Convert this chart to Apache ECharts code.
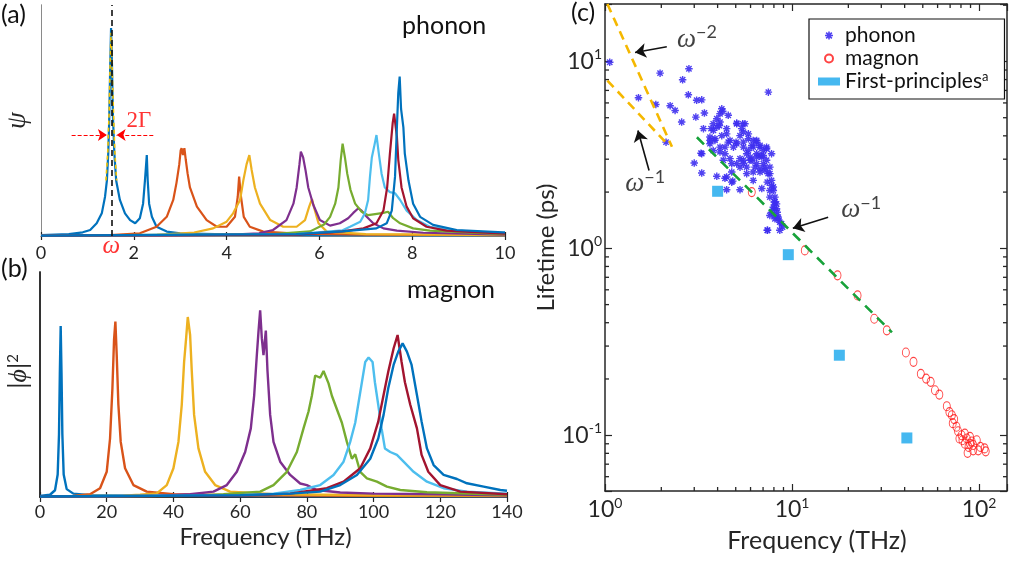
<!DOCTYPE html>
<html>
<head>
<meta charset="utf-8">
<script src="https://cdn.jsdelivr.net/npm/echarts@6/dist/echarts.min.js"></script>
<style>
  html, body { margin: 0; padding: 0; background: #fff; }
  #main { width: 1010px; height: 561px; }
</style>
</head>
<body>
<div id="main"></div>
<script>
// ---------- shared look ----------
const FONT = 'Lato, "DejaVu Sans", sans-serif';
const SERIF = '"Liberation Serif", "DejaVu Serif", serif';
const INK = '#262626';
const C_BLUE = '#0072BD', C_ORANGE = '#D95319', C_YELLOW = '#EDB120', C_PURPLE = '#7E2F8E',
      C_GREEN = '#77AC30', C_CYAN = '#4DBEEE', C_RED = '#A2142F';

// ---------- (a) phonon spectral functions: [frequency THz, psi (arb.)] ----------
const phA1 = [[0,0.004],[0.6,0.008],[0.9,0.016],[1.06,0.026],[1.2,0.055],[1.31,0.098],[1.38,0.17],[1.42,0.24],[1.45,0.36],[1.47,0.5],[1.49,0.72],[1.51,0.9],[1.53,0.74],[1.55,0.52],[1.58,0.36],[1.62,0.24],[1.7,0.156],[1.81,0.098],[1.92,0.069],[2.03,0.055],[2.13,0.077],[2.2,0.14],[2.24,0.24],[2.28,0.35],[2.3,0.24],[2.33,0.14],[2.39,0.083],[2.49,0.04],[2.71,0.019],[3.0,0.012],[4.0,0.007],[6,0.004],[10,0.003]];
const phA2 = [[0,0.002],[1.5,0.004],[2.13,0.012],[2.49,0.04],[2.71,0.083],[2.85,0.156],[2.92,0.23],[2.98,0.31],[3.01,0.37],[3.03,0.38],[3.06,0.35],[3.09,0.38],[3.12,0.33],[3.16,0.27],[3.21,0.21],[3.36,0.127],[3.57,0.069],[3.79,0.04],[4.0,0.04],[4.18,0.083],[4.24,0.17],[4.27,0.257],[4.31,0.17],[4.37,0.083],[4.5,0.04],[4.79,0.019],[5.5,0.01],[7,0.006],[10,0.004]];
const phA3 = [[0,0.002],[2.5,0.005],[3.3,0.015],[3.71,0.033],[4.0,0.062],[4.14,0.098],[4.29,0.156],[4.36,0.24],[4.43,0.31],[4.49,0.35],[4.54,0.286],[4.61,0.21],[4.72,0.14],[4.94,0.069],[5.22,0.04],[5.51,0.04],[5.69,0.069],[5.78,0.127],[5.84,0.16],[5.88,0.127],[5.98,0.055],[6.16,0.019],[7,0.008],[10,0.004]];
const phA4 = [[0,0.002],[4.0,0.005],[4.7,0.012],[5.0,0.026],[5.29,0.069],[5.44,0.14],[5.51,0.21],[5.57,0.31],[5.6,0.365],[5.65,0.34],[5.7,0.286],[5.76,0.21],[5.87,0.134],[6.01,0.069],[6.23,0.045],[6.44,0.055],[6.62,0.077],[6.73,0.1],[6.84,0.12],[6.91,0.11],[7.02,0.083],[7.16,0.055],[7.38,0.033],[7.67,0.023],[8.24,0.014],[10,0.006]];
const phA5 = [[0,0.002],[5.0,0.008],[5.8,0.02],[6.1,0.05],[6.23,0.083],[6.34,0.14],[6.41,0.21],[6.46,0.33],[6.5,0.40],[6.55,0.34],[6.6,0.27],[6.67,0.2],[6.77,0.14],[6.91,0.105],[7.05,0.09],[7.2,0.095],[7.38,0.1],[7.48,0.105],[7.59,0.077],[7.74,0.055],[8.02,0.033],[8.38,0.023],[10,0.008]];
const phA6 = [[0,0.002],[5.5,0.008],[6.5,0.025],[6.66,0.04],[6.88,0.062],[6.98,0.098],[7.05,0.156],[7.09,0.257],[7.13,0.34],[7.18,0.387],[7.23,0.437],[7.28,0.358],[7.34,0.27],[7.41,0.21],[7.52,0.19],[7.63,0.185],[7.74,0.156],[7.88,0.11],[8.1,0.069],[8.38,0.04],[8.96,0.023],[10,0.012]];
const phA7 = [[0,0.002],[5.5,0.006],[6.5,0.02],[6.95,0.033],[7.23,0.055],[7.38,0.11],[7.46,0.21],[7.52,0.358],[7.58,0.49],[7.61,0.53],[7.67,0.43],[7.7,0.33],[7.77,0.21],[7.88,0.127],[8.02,0.077],[8.31,0.04],[8.74,0.023],[10,0.01]];
const phA8 = [[0,0.002],[5.5,0.008],[6.5,0.02],[7.23,0.033],[7.45,0.055],[7.56,0.11],[7.63,0.257],[7.67,0.47],[7.7,0.62],[7.73,0.69],[7.76,0.55],[7.81,0.47],[7.84,0.358],[7.92,0.24],[8.02,0.14],[8.17,0.083],[8.45,0.048],[8.96,0.026],[9.96,0.016],[10,0.016]];
// Lorentzian fit drawn over the lowest mode
const phAFit = [[1.40,0.24],[1.44,0.37],[1.47,0.55],[1.49,0.75],[1.51,0.88],[1.53,0.75],[1.56,0.55],[1.59,0.37],[1.63,0.24]];
const modeOmega = 1.515;      // centre frequency of the fitted mode
const halfWidthLevel = 0.437; // height of the 2Γ arrows

// ---------- (b) magnon spectral functions: [frequency THz, |phi|^2 (arb.)] ----------
const mgB1 = [[0,0.005],[3,0.01],[4.5,0.03],[5.3,0.1],[5.7,0.28],[5.95,0.55],[6.2,0.76],[6.45,0.55],[6.7,0.28],[7.1,0.1],[8,0.035],[10,0.015],[15,0.008],[30,0.005],[80,0.004],[140,0.003]];
const mgB2 = [[0,0.002],[10,0.005],[15,0.012],[18,0.039],[20,0.112],[21,0.26],[21.7,0.48],[22.2,0.7],[22.6,0.78],[23,0.63],[23.5,0.41],[24.2,0.245],[25.5,0.128],[28,0.053],[32,0.024],[40,0.012],[60,0.007],[100,0.005],[140,0.004]];
const mgB3 = [[0,0.002],[25,0.006],[30,0.01],[35,0.016],[38,0.053],[40,0.128],[41.5,0.245],[42.5,0.41],[43.2,0.6],[43.8,0.705],[44.3,0.8],[45,0.72],[45.5,0.56],[46.2,0.365],[47.5,0.216],[49.5,0.112],[52.5,0.053],[57,0.024],[70,0.012],[100,0.008],[140,0.006]];
const mgB4 = [[0,0.002],[35,0.005],[45,0.012],[52,0.024],[56,0.053],[59,0.112],[61.5,0.2],[63.2,0.305],[64.2,0.45],[65,0.63],[65.5,0.735],[66,0.83],[66.5,0.705],[67,0.63],[67.7,0.74],[68.2,0.56],[69,0.365],[70,0.245],[72,0.157],[75,0.098],[78,0.06],[80,0.053],[83,0.031],[90,0.02],[100,0.015],[120,0.012],[140,0.008]];
const mgB5 = [[0,0.002],[45,0.005],[55,0.012],[66,0.024],[70,0.053],[74,0.112],[77,0.2],[79,0.305],[80.5,0.38],[81.5,0.45],[82.5,0.54],[84,0.53],[85,0.56],[86.5,0.505],[87.5,0.45],[89,0.39],[90.5,0.33],[92,0.245],[93.5,0.17],[94.5,0.19],[96,0.112],[98,0.083],[101,0.068],[104,0.046],[108,0.031],[116,0.021],[140,0.01]];
const mgB6 = [[0,0.002],[60,0.008],[70,0.015],[78,0.031],[84,0.053],[88,0.098],[91,0.157],[93,0.245],[94.5,0.33],[95.5,0.42],[96.5,0.51],[97.5,0.6],[98.5,0.62],[99.7,0.6],[100.4,0.51],[101.4,0.41],[102.4,0.305],[103.4,0.216],[105,0.2],[107,0.187],[109,0.157],[112,0.112],[116,0.068],[121,0.039],[128,0.024],[140,0.015]];
const mgB7 = [[0,0.002],[60,0.006],[75,0.015],[86,0.039],[91,0.068],[96,0.128],[99,0.216],[101.4,0.335],[103,0.453],[104.4,0.557],[106,0.66],[107.2,0.72],[108.4,0.6],[109.4,0.51],[111,0.41],[113,0.305],[114.4,0.187],[116.4,0.112],[120,0.053],[126,0.024],[140,0.012]];
const mgB8 = [[0,0.002],[60,0.008],[75,0.015],[84,0.024],[90,0.053],[95,0.098],[99,0.17],[101.4,0.26],[103,0.365],[104.4,0.483],[106,0.587],[107.4,0.646],[108.7,0.683],[110,0.646],[111.4,0.587],[113,0.453],[114.4,0.335],[116,0.216],[118,0.142],[121,0.098],[125,0.08],[128,0.061],[133,0.046],[138,0.031],[140,0.028]];

// ---------- (c) lifetimes: [frequency THz, lifetime ps] ----------
const phononLife = [[1.06,9.9],[1.51,6.4],[1.97,8.66],[1.87,5.89],[2.23,5.8],[2.37,5.47],[2.57,4.74],[2.6,7.98],[2.79,6.63],[2.81,9.14],[2.12,3.7],[3.09,6.2],[3.29,6.23],[3.4,5.3],[3.06,5.04],[3.36,4.37],[3.0,2.86],[3.26,3.23],[3.29,2.53],[3.96,2.43],[4.38,2.37],[4.47,2.06],[4.76,2.26],[5.27,2.06],[3.69,4.37],[3.79,4.64],[3.96,4.94],[4.12,5.25],[4.26,5.42],[4.09,4.54],[3.64,3.63],[3.87,3.86],[4.21,4.01],[4.47,4.1],[4.56,3.7],[4.12,3.48],[3.79,3.34],[4.38,3.21],[4.86,3.48],[5.06,4.64],[5.38,4.37],[5.6,4.64],[5.27,4.01],[5.06,3.63],[5.49,3.7],[5.84,4.1],[6.2,3.78],[6.2,3.48],[5.72,3.21],[5.27,3.02],[4.76,2.84],[5.27,2.72],[5.72,2.72],[6.1,2.96],[6.47,3.21],[6.74,3.48],[7.02,3.34],[7.31,3.48],[6.47,2.84],[6.89,3.08],[7.31,2.96],[6.74,2.67],[6.2,2.56],[5.72,2.51],[7.61,2.72],[7.77,3.21],[7.45,2.51],[7.77,2.31],[7.94,2.13],[7.61,2.04],[8.1,1.88],[8.26,1.73],[7.94,1.66],[8.33,1.56],[7.61,1.5],[8.1,1.44],[8.6,1.38],[8.9,1.3],[7.4,1.25],[7.47,6.85],[8.03,1.77],[8.44,1.47],[6.2,2.31],[4.76,2.56],[4.56,5.15],[4.21,5.58],[3.64,3.94],[4.47,4.37],[7.02,2.84],[5.84,3.34],[6.47,3.78],[6.74,3.14],[5.97,3.08],[6.34,2.72],[5.49,2.84],[7.16,2.61],[8.03,1.63],[8.6,1.25],[4.12,4.74],[3.96,4.45],[3.8,4.28],[3.87,3.78],[3.64,3.78],[4.38,3.48],[4.66,3.78],[5.06,4.68],[5.45,4.64],[5.5,4.19],[5.02,3.7],[5.5,3.48],[5.84,3.86],[6.09,3.55],[6.47,3.7],[6.74,3.55],[7.31,3.41],[7.02,3.14],[6.47,3.08],[5.97,2.96],[6.74,2.56],[7.16,2.72],[7.61,2.51],[7.37,2.26],[7.78,2.17],[7.94,2.04],[7.61,1.88],[8.1,1.77],[8.26,1.63],[7.78,1.56],[8.1,1.5],[8.42,1.44],[8.78,1.355],[7.37,1.25],[3.29,3.21],[4.47,2.41],[4.82,2.29],[6.89,2.09],[5.5,2.96],[5.06,2.84],[4.66,3.02],[4.12,3.28],[4.29,2.96]];
const magnonLife = [[6.09,2.0],[11.7,0.975],[17.5,0.717],[22.4,0.56],[27.5,0.42],[32.1,0.364],[40.6,0.277],[44.6,0.247],[48.8,0.213],[52.1,0.201],[55.1,0.193],[58.1,0.174],[61.3,0.165],[67.2,0.143],[69.4,0.133],[71.5,0.128],[73.6,0.122],[72.3,0.116],[75.7,0.111],[77.2,0.105],[80.6,0.1],[83.9,0.102],[81.5,0.094],[85.9,0.096],[89.4,0.098],[91.3,0.0925],[87.8,0.0866],[93.0,0.0887],[97.2,0.094],[86.8,0.0805],[93,0.083],[99,0.083],[101.6,0.0866],[107,0.085],[108.5,0.082],[83.9,0.09],[78.5,0.096],[89.4,0.09]];
const firstPrinciples = [[4.0,2.02],[9.55,0.925],[17.9,0.268],[41.1,0.0967]];
// guide lines
const powerLawSteep = [[1.03,20.3],[2.28,3.5]];   // ω^-2
const powerLawLow   = [[1.03,7.9],[2.14,3.64]];   // ω^-1 (low frequency)
const powerLawHigh  = [[3.10,3.93],[34.2,0.355]]; // ω^-1 (crossover)

// axis extents of (c)
const C_X_MIN = 1, C_X_MAX = 141, C_Y_MIN = 0.0503, C_Y_MAX = 20.3;

// minor ticks of the log axes (2..9 within each decade)
const minorX = [], minorY = [];
for (let d = -2; d <= 2; d++) {
  for (let m = 2; m <= 9; m++) {
    const v = m * Math.pow(10, d);
    if (v > C_X_MIN && v < C_X_MAX) minorX.push([v, C_Y_MIN]);
    if (v > C_Y_MIN && v < C_Y_MAX) minorY.push([C_X_MIN, v]);
  }
}

const ASTERISK = 'path://M0,-10L0,10M-10,0L10,0M-7.1,-7.1L7.1,7.1M-7.1,7.1L7.1,-7.1';
const PH_COLOR = '#3d2ef0', MG_COLOR = '#ff1414', FP_COLOR = '#16a6ec';

function decadeFormatter(v) {
  const e = Math.log10(v);
  const r = Math.round(e);
  if (Math.abs(e - r) > 1e-6) return '';
  return '{b|10}{sup|' + r + '}';
}
const decadeRich = {
  b: { fontFamily: FONT, fontSize: 23, color: INK, lineHeight: 28 },
  sup: { fontFamily: FONT, fontSize: 14, color: INK, lineHeight: 14, verticalAlign: 'top' }
};

function spectrum(data, color, xi, yi, width, extra) {
  return Object.assign({
    type: 'line', data: data, xAxisIndex: xi, yAxisIndex: yi,
    showSymbol: false, symbol: 'none', silent: true,
    lineStyle: { color: color, width: width }, itemStyle: { color: color }
  }, extra || {});
}

const tickInside = len => ({ show: true, inside: true, length: len, lineStyle: { color: INK, width: 1.2 } });

// short inward tick marks at the log-axis minor positions (bottom/top or left/right)
function minorTickRenderer(horizontal) {
  return function (params, api) {
    const L = 4;
    const st = { stroke: INK, lineWidth: 1.3 };
    if (horizontal) {
      const v = api.value(0);
      const p0 = api.coord([v, C_Y_MIN]), p1 = api.coord([v, C_Y_MAX]);
      return { type: 'group', children: [
        { type: 'line', shape: { x1: p0[0], y1: p0[1], x2: p0[0], y2: p0[1] - L }, style: st },
        { type: 'line', shape: { x1: p1[0], y1: p1[1], x2: p1[0], y2: p1[1] + L }, style: st }
      ] };
    }
    const v = api.value(1);
    const q0 = api.coord([C_X_MIN, v]), q1 = api.coord([C_X_MAX, v]);
    return { type: 'group', children: [
      { type: 'line', shape: { x1: q0[0], y1: q0[1], x2: q0[0] + L, y2: q0[1] }, style: st },
      { type: 'line', shape: { x1: q1[0], y1: q1[1], x2: q1[0] - L, y2: q1[1] }, style: st }
    ] };
  };
}

const chart = echarts.init(document.getElementById('main'), null, { renderer: 'canvas' });

const option = {
  animation: false,
  backgroundColor: '#fff',
  textStyle: { fontFamily: FONT },
  grid: [
    { left: 41, top: 5, width: 464, height: 231 },
    { left: 40, top: 272, width: 467, height: 225 },
    { left: 605, top: 4, width: 402, height: 487 }
  ],
  xAxis: [
    { gridIndex: 0, type: 'value', min: 0, max: 10, interval: 2, position: 'bottom',
      axisLine: { lineStyle: { color: '#8a8a8a', width: 1 } }, axisTick: tickInside(4),
      axisLabel: { fontSize: 18, color: INK, margin: 8 }, splitLine: { show: false } },
    { gridIndex: 0, type: 'value', min: 0, max: 10, interval: 2, position: 'top',
      axisLine: { lineStyle: { color: '#8a8a8a', width: 1 } }, axisTick: tickInside(4),
      axisLabel: { show: false }, splitLine: { show: false } },
    { gridIndex: 1, type: 'value', min: 0, max: 140, interval: 20, position: 'bottom',
      axisLine: { lineStyle: { color: INK, width: 1.5 } }, axisTick: tickInside(5),
      axisLabel: { fontSize: 18, color: INK, margin: 6 }, splitLine: { show: false },
      name: 'Frequency (THz)', nameLocation: 'middle', nameGap: 28,
      nameTextStyle: { fontSize: 24, color: INK, padding: [0, 16, 0, 0] } },
    { gridIndex: 1, type: 'value', min: 0, max: 140, interval: 20, position: 'top',
      axisLine: { lineStyle: { color: INK, width: 1.5 } }, axisTick: tickInside(5),
      axisLabel: { show: false }, splitLine: { show: false } },
    { gridIndex: 2, type: 'log', logBase: 10, min: C_X_MIN, max: C_X_MAX, position: 'bottom',
      axisLine: { lineStyle: { color: INK, width: 1.5 } }, axisTick: tickInside(7),
      axisLabel: { formatter: decadeFormatter, rich: decadeRich, margin: 5 },
      splitLine: { show: false },
      name: 'Frequency (THz)', nameLocation: 'middle', nameGap: 37,
      nameTextStyle: { fontSize: 25, color: INK, padding: [0, 0, 0, 22] } },
    { gridIndex: 2, type: 'log', logBase: 10, min: C_X_MIN, max: C_X_MAX, position: 'top',
      axisLine: { lineStyle: { color: INK, width: 1.5 } }, axisTick: tickInside(7),
      axisLabel: { show: false }, splitLine: { show: false } }
  ],
  yAxis: [
    { gridIndex: 0, type: 'value', min: 0, max: 1, position: 'left',
      axisLine: { show: true, lineStyle: { color: '#8a8a8a', width: 1 } }, axisTick: { show: false },
      axisLabel: { show: false }, splitLine: { show: false },
      name: 'ψ', nameLocation: 'middle', nameGap: 10,
      nameTextStyle: { fontSize: 27, fontStyle: 'italic', fontFamily: SERIF, color: INK } },
    { gridIndex: 0, type: 'value', min: 0, max: 1, position: 'right',
      axisLine: { show: true, lineStyle: { color: '#8a8a8a', width: 1 } }, axisTick: { show: false },
      axisLabel: { show: false }, splitLine: { show: false } },
    { gridIndex: 1, type: 'value', min: 0, max: 1, position: 'left',
      axisLine: { show: true, lineStyle: { color: INK, width: 1.5 } }, axisTick: { show: false },
      axisLabel: { show: false }, splitLine: { show: false },
      name: '|{i|ϕ}|{sup|2}', nameLocation: 'middle', nameGap: 8,
      nameTextStyle: { fontSize: 25, color: INK, fontFamily: FONT, padding: [0, 0, 0, 26],
        rich: { i: { fontSize: 26, color: INK, fontFamily: SERIF, fontStyle: 'italic' },
                sup: { fontSize: 15, color: INK, verticalAlign: 'top', lineHeight: 14 } } } },
    { gridIndex: 1, type: 'value', min: 0, max: 1, position: 'right',
      axisLine: { show: true, lineStyle: { color: INK, width: 1.5 } }, axisTick: { show: false },
      axisLabel: { show: false }, splitLine: { show: false } },
    { gridIndex: 2, type: 'log', logBase: 10, min: C_Y_MIN, max: C_Y_MAX, position: 'left',
      axisLine: { show: true, lineStyle: { color: INK, width: 1.5 } }, axisTick: tickInside(7),
      axisLabel: { formatter: decadeFormatter, rich: decadeRich, margin: 3 },
      splitLine: { show: false },
      name: 'Lifetime (ps)', nameLocation: 'middle', nameGap: 46,
      nameTextStyle: { fontSize: 24, color: INK } },
    { gridIndex: 2, type: 'log', logBase: 10, min: C_Y_MIN, max: C_Y_MAX, position: 'right',
      axisLine: { show: true, lineStyle: { color: INK, width: 1.5 } }, axisTick: tickInside(7),
      axisLabel: { show: false }, splitLine: { show: false } }
  ],
  legend: {
    orient: 'vertical', left: 809, top: 19,
    backgroundColor: '#fff', borderColor: '#111', borderWidth: 1.2, borderRadius: 0,
    padding: [5, 16, 6, 9], itemGap: 0, itemWidth: 22, itemHeight: 8, symbolKeepAspect: true,
    textStyle: { fontFamily: FONT, fontSize: 21, color: '#111', lineHeight: 23,
      rich: { n: { fontSize: 21, color: '#111', lineHeight: 23 },
              sup: { fontSize: 13, color: '#111', lineHeight: 13, verticalAlign: 'top' } } },
    formatter: name => name === 'First-principles' ? '{n|First-principles}{sup|a}' : '{n|' + name + '}',
    selectedMode: false,
    data: [
      { name: 'phonon', icon: ASTERISK, itemStyle: { color: PH_COLOR, borderColor: PH_COLOR, borderWidth: 1.6 } },
      { name: 'magnon', icon: 'circle', itemStyle: { color: 'transparent', borderColor: MG_COLOR, borderWidth: 2 } },
      { name: 'First-principles', icon: 'rect', itemStyle: { color: FP_COLOR, borderWidth: 0 } }
    ]
  },
  graphic: [
    { type: 'text', left: 1, top: 2, style: { text: '(a)', font: '25px ' + FONT, fill: '#111' } },
    { type: 'text', left: 402, top: 13, style: { text: 'phonon', font: '25px ' + FONT, fill: '#111' } },
    { type: 'text', left: 1, top: 256, style: { text: '(b)', font: '25px ' + FONT, fill: '#111' } },
    { type: 'text', left: 407, top: 277, style: { text: 'magnon', font: '25px ' + FONT, fill: '#111' } },
    { type: 'text', left: 571, top: 0, style: { text: '(c)', font: '25px ' + FONT, fill: '#111' } }
  ],
  series: [
    // (a)
    spectrum(phA1, C_BLUE, 0, 0, 2.2),
    spectrum(phA2, C_ORANGE, 0, 0, 2.2),
    spectrum(phA3, C_YELLOW, 0, 0, 2.2),
    spectrum(phA4, C_PURPLE, 0, 0, 2.2),
    spectrum(phA5, C_GREEN, 0, 0, 2.2),
    spectrum(phA6, C_CYAN, 0, 0, 2.2),
    spectrum(phA7, C_RED, 0, 0, 2.2),
    spectrum(phA8, C_BLUE, 0, 0, 2.2),
    spectrum(phAFit, '#f2c200', 0, 0, 1.6, { lineStyle: { color: '#f2c200', width: 1.6, type: [4, 3] }, z: 3 }),
    {
      type: 'scatter', xAxisIndex: 0, yAxisIndex: 0, silent: true, clip: false, z: 4,
      symbolSize: 0,
      data: [
        { value: [2.11, 0.50], label: { formatter: '2Γ', fontFamily: SERIF, fontSize: 23, color: '#ff0000' } },
        { value: [modeOmega, -0.046], label: { formatter: 'ω', fontFamily: SERIF, fontStyle: 'italic', fontSize: 25, color: '#ff0000' } }
      ],
      label: { show: true, position: 'inside' },
      markLine: {
        silent: true, animation: false, symbolSize: 9,
        label: { show: false },
        data: [
          [{ coord: [modeOmega, 0], symbol: 'none', lineStyle: { color: '#111', width: 1.6, type: [6, 4] } },
           { coord: [modeOmega, 1], symbol: 'none', lineStyle: { color: '#111', width: 1.6, type: [6, 4] } }],
          [{ coord: [0.66, halfWidthLevel], symbol: 'none', lineStyle: { color: '#ff0000', width: 1.2, type: [4, 2] } },
           { coord: [1.42, halfWidthLevel], symbol: 'arrow', lineStyle: { color: '#ff0000', width: 1.2, type: [4, 2] } }],
          [{ coord: [2.42, halfWidthLevel], symbol: 'none', lineStyle: { color: '#ff0000', width: 1.2, type: [4, 2] } },
           { coord: [1.63, halfWidthLevel], symbol: 'arrow', lineStyle: { color: '#ff0000', width: 1.2, type: [4, 2] } }]
        ]
      }
    },
    // (b)
    spectrum(mgB1, C_BLUE, 2, 2, 2.4),
    spectrum(mgB2, C_ORANGE, 2, 2, 2.4),
    spectrum(mgB3, C_YELLOW, 2, 2, 2.4),
    spectrum(mgB4, C_PURPLE, 2, 2, 2.4),
    spectrum(mgB5, C_GREEN, 2, 2, 2.4),
    spectrum(mgB6, C_CYAN, 2, 2, 2.4),
    spectrum(mgB7, C_RED, 2, 2, 2.4),
    spectrum(mgB8, C_BLUE, 2, 2, 2.4),
    // (c)
    { type: 'custom', xAxisIndex: 4, yAxisIndex: 4, silent: true, clip: false, z: 1,
      dimensions: ['x', 'y'], encode: { x: 0, y: 1 },
      data: minorX, renderItem: minorTickRenderer(true) },
    { type: 'custom', xAxisIndex: 4, yAxisIndex: 4, silent: true, clip: false, z: 1,
      dimensions: ['x', 'y'], encode: { x: 0, y: 1 },
      data: minorY, renderItem: minorTickRenderer(false) },
    { name: 'ω^-2 guide', type: 'line', xAxisIndex: 4, yAxisIndex: 4, data: powerLawSteep, showSymbol: false, symbol: 'none', silent: true,
      lineStyle: { color: '#f5b800', width: 2.6, type: [9, 6] } },
    { name: 'ω^-1 guide', type: 'line', xAxisIndex: 4, yAxisIndex: 4, data: powerLawLow, showSymbol: false, symbol: 'none', silent: true,
      lineStyle: { color: '#f5b800', width: 2.6, type: [9, 6] } },
    { name: 'ω^-1 crossover', type: 'line', xAxisIndex: 4, yAxisIndex: 4, data: powerLawHigh, showSymbol: false, symbol: 'none', silent: true,
      lineStyle: { color: '#17a23a', width: 2.6, type: [10, 7] } },
    { name: 'phonon', type: 'scatter', xAxisIndex: 4, yAxisIndex: 4, data: phononLife, silent: true,
      symbol: ASTERISK, symbolSize: 7.5,
      itemStyle: { color: PH_COLOR, borderColor: PH_COLOR, borderWidth: 1.4, opacity: 0.9 } },
    { name: 'magnon', type: 'scatter', xAxisIndex: 4, yAxisIndex: 4, data: magnonLife, silent: true,
      symbol: 'circle', symbolSize: [7, 9],
      itemStyle: { color: 'transparent', borderColor: MG_COLOR, borderWidth: 1 } },
    { name: 'First-principles', type: 'scatter', xAxisIndex: 4, yAxisIndex: 4, data: firstPrinciples, silent: true,
      symbol: 'rect', symbolSize: 11, itemStyle: { color: FP_COLOR } },
    {
      type: 'scatter', xAxisIndex: 4, yAxisIndex: 4, silent: true, clip: false, z: 6,
      symbolSize: 0,
      label: { show: true, position: 'inside',
        rich: {
          w: { fontFamily: SERIF, fontStyle: 'italic', fontSize: 27, color: '#111', lineHeight: 32 },
          s: { fontFamily: FONT, fontSize: 18, color: '#111', lineHeight: 16, verticalAlign: 'top' }
        } },
      data: [
        { value: [3.10, 13.1], label: { formatter: '{w|ω}{s|−2}' } },
        { value: [1.64, 2.2], label: { formatter: '{w|ω}{s|−1}' } },
        { value: [23.4, 1.6], label: { formatter: '{w|ω}{s|−1}' } }
      ],
      markLine: {
        silent: true, animation: false, symbolSize: 11,
        label: { show: false },
        lineStyle: { color: '#111', width: 1.6, type: 'solid' },
        data: [
          [{ coord: [2.14, 12.0], symbol: 'none' }, { coord: [1.447, 11.17], symbol: 'arrow' }],
          [{ coord: [1.72, 2.61], symbol: 'none' }, { coord: [1.50, 4.27], symbol: 'arrow' }],
          [{ coord: [15.6, 1.465], symbol: 'none' }, { coord: [10.1, 1.28], symbol: 'arrow' }]
        ]
      }
    }
  ]
};

chart.setOption(option);
</script>
</body>
</html>
